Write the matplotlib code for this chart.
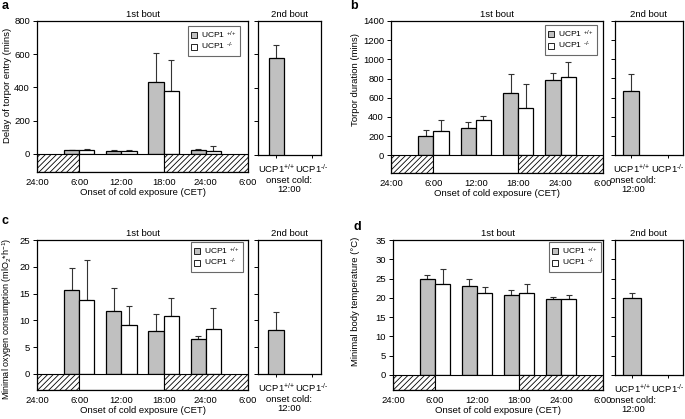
import matplotlib
matplotlib.use('Agg')
import matplotlib.pyplot as plt
from matplotlib.patches import Rectangle
import numpy as np

FAMILY = 'Liberation Sans'
FS = 6.8

plt.rcParams['font.family'] = [FAMILY, 'DejaVu Sans']
plt.rcParams['mathtext.fontset'] = 'custom'
plt.rcParams['mathtext.rm'] = FAMILY
plt.rcParams['mathtext.it'] = FAMILY + ':italic'
plt.rcParams['mathtext.bf'] = FAMILY + ':bold'
plt.rcParams['hatch.linewidth'] = 0.6

# ---------------- data ----------------
time_labels = ['24:00', '6:00', '12:00', '18:00', '24:00', '6:00']
onset_idx = [1, 2, 3, 4]          # onsets at 6:00, 12:00, 18:00, 24:00
second_labels = ['UCP1$^{\\text{+/+}}$', 'UCP1$^{\\text{-/-}}$']
legend_labels = ['UCP1 $^{\\text{+/+}}$', 'UCP1 $^{\\text{-/-}}$']

a_wt = [20, 15, 430, 25]
a_wt_err = [5, 5, 180, 5]
a_ko = [20, 15, 378, 18]
a_ko_err = [6, 6, 187, 27]
a_wt2 = 580
a_wt2_err = 75

b_wt = [205, 280, 645, 780]
b_wt_err = [55, 70, 200, 80]
b_ko = [255, 370, 490, 815]
b_ko_err = [115, 35, 250, 160]
b_wt2 = 670
b_wt2_err = 175

c_wt = [15.7, 11.7, 8.0, 6.5]
c_wt_err = [4.0, 4.4, 3.1, 0.5]
c_ko = [13.8, 9.2, 10.8, 8.3]
c_ko_err = [7.5, 3.5, 3.3, 4.1]
c_wt2 = 8.2
c_wt2_err = 3.4

d_wt = [25.0, 23.0, 20.7, 19.7]
d_wt_err = [1.0, 2.0, 1.4, 0.4]
d_ko = [23.6, 21.2, 21.3, 19.7]
d_ko_err = [3.8, 1.6, 2.2, 1.0]
d_wt2 = 20.0
d_wt2_err = 1.2

W, H = 685, 419
fig = plt.figure(figsize=(W / 100, H / 100), dpi=100)

GRAY = '#c0c0c0'


def px_axes(x0, y0, x1, y1):
    return fig.add_axes([x0 / W, 1 - y1 / H, (x1 - x0) / W, (y1 - y0) / H])


def panel(letter, letter_xy, main_px, sec_px, ylo, yhi, ystep, ylabel, ylabel_xy, ylabel_fs,
          wt, wt_err, ko, ko_err, wt2, wt2_err, sec_pos, onset_x, leg_px):
    ax = px_axes(*main_px)
    bw = 0.36
    x = np.array(onset_idx, dtype=float)
    ax.bar(x - bw / 2, wt, bw, color=GRAY, edgecolor='black', linewidth=0.9, zorder=3)
    ax.bar(x + bw / 2, ko, bw, color='white', edgecolor='black', linewidth=0.9, zorder=3)
    ax.errorbar(x - bw / 2, wt, yerr=[np.zeros(len(wt)), wt_err], fmt='none',
                ecolor='#333333', elinewidth=0.8, capsize=2.5, capthick=0.8, zorder=2)
    ax.errorbar(x + bw / 2, ko, yerr=[np.zeros(len(ko)), ko_err], fmt='none',
                ecolor='#333333', elinewidth=0.8, capsize=2.5, capthick=0.8, zorder=2)
    # dark/light strip
    ax.add_patch(Rectangle((0, ylo), 1, -ylo, facecolor='white', edgecolor='black',
                           hatch='//////', linewidth=0.8, zorder=4))
    ax.add_patch(Rectangle((1, ylo), 2, -ylo, facecolor='white', edgecolor='black',
                           linewidth=0.8, zorder=4))
    ax.add_patch(Rectangle((3, ylo), 2, -ylo, facecolor='white', edgecolor='black',
                           hatch='//////', linewidth=0.8, zorder=4))
    ax.set_xlim(0, 5)
    ax.set_ylim(ylo, yhi)
    ax.set_xticks(range(len(time_labels)))
    ax.set_xticklabels(time_labels, fontsize=FS)
    ax.tick_params(axis='x', length=2, width=0.6, direction='in', pad=4)
    yt = np.arange(0, yhi + ystep / 2, ystep)
    ax.set_yticks(yt)
    ax.set_yticklabels([f'{v:g}' for v in yt], fontsize=FS)
    ax.tick_params(axis='y', length=3, width=0.7, direction='out', pad=2)
    for s in ax.spines.values():
        s.set_linewidth(0.9)
        s.set_zorder(5)
    ax.set_xlabel('Onset of cold exposure (CET)', fontsize=FS, labelpad=1)
    fig.text(ylabel_xy[0] / W, 1 - ylabel_xy[1] / H, ylabel, fontsize=ylabel_fs,
             rotation=90, ha='center', va='center')
    ax.set_title('1st bout', fontsize=FS, pad=3)
    handles = [Rectangle((0, 0), 1, 1, facecolor=GRAY, edgecolor='black', linewidth=0.6),
               Rectangle((0, 0), 1, 1, facecolor='white', edgecolor='black', linewidth=0.6)]
    lx0, ly0, lx1, ly1 = leg_px
    leg = ax.legend(handles, legend_labels, fontsize=FS * 0.9, frameon=True, fancybox=False,
                    loc='upper right',
                    bbox_to_anchor=((lx1 - main_px[0]) / (main_px[2] - main_px[0]),
                                    1 - (ly0 - main_px[1]) / (main_px[3] - main_px[1])),
                    handlelength=0.7, handleheight=0.7, handletextpad=0.5,
                    borderpad=0.4, labelspacing=0.05, borderaxespad=0)
    leg.get_frame().set_edgecolor('#444444')
    leg.get_frame().set_linewidth(0.8)

    ax2 = px_axes(*sec_px)
    p_wt, p_ko, w2 = sec_pos
    ax2.bar([p_wt], [wt2], w2, color=GRAY, edgecolor='black', linewidth=0.9, zorder=3)
    ax2.errorbar([p_wt], [wt2], yerr=[[0], [wt2_err]], fmt='none', ecolor='#333333',
                 elinewidth=0.8, capsize=2.5, capthick=0.8, zorder=2)
    ax2.set_xlim(0, 1)
    ax2.set_ylim(0, yhi)
    ax2.set_yticks(yt)
    ax2.set_yticklabels([])
    ax2.tick_params(axis='y', length=3, width=0.7, direction='out')
    ax2.set_xticks([p_wt, p_ko])
    ax2.set_xticklabels(second_labels, fontsize=FS)
    ax2.tick_params(axis='x', length=2, width=0.7, direction='out', pad=3)
    for s in ax2.spines.values():
        s.set_linewidth(0.9)
    ax2.set_title('2nd bout', fontsize=FS, pad=3)
    ax2.text(onset_x, -0.155, 'onset cold:\n12:00', transform=ax2.transAxes,
             ha='center', va='top', fontsize=FS, linespacing=1.0)

    fig.text(letter_xy[0] / W, 1 - letter_xy[1] / H, letter, fontsize=9,
             fontweight='bold', ha='left', va='top')


panel('a', (2, 0), (37, 21, 248, 172), (258, 21, 321, 155), -110, 800, 200,
      'Delay of torpor entry (mins)', (8, 85), FS,
      a_wt, a_wt_err, a_ko, a_ko_err, a_wt2, a_wt2_err,
      (0.29, 0.85, 0.24), 0.5, (185, 26, 240, 50))

panel('b', (350, 0), (391, 21, 603, 173), (615, 21, 683, 155), -185, 1400, 200,
      'Torpor duration (mins)', (356, 80), FS,
      b_wt, b_wt_err, b_ko, b_ko_err, b_wt2, b_wt2_err,
      (0.24, 0.78, 0.24), 0.27, (545, 25, 597, 45))

panel('c', (2, 215), (37, 240, 248, 390), (258, 240, 321, 374), -3.0, 25, 5,
      'Minimal oxygen consumption (mlO$_2$*h$^{-1}$)', (7, 319), FS * 0.95,
      c_wt, c_wt_err, c_ko, c_ko_err, c_wt2, c_wt2_err,
      (0.29, 0.86, 0.25), 0.5, (185, 242, 243, 267))

panel('d', (354, 221), (393, 240, 603, 390), (615, 240, 683, 375), -3.9, 35, 5,
      'Minimal body temperature (°C)', (356, 301), FS,
      d_wt, d_wt_err, d_ko, d_ko_err, d_wt2, d_wt2_err,
      (0.25, 0.78, 0.26), 0.27, (540, 242, 601, 268))

fig.savefig('out.png', dpi=100)
